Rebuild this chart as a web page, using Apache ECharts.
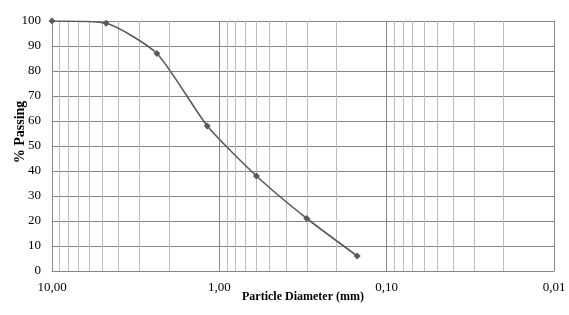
<!DOCTYPE html>
<html>
<head>
<meta charset="utf-8">
<script src="https://cdn.jsdelivr.net/npm/echarts@6/dist/echarts.min.js"></script>
<style>html,body{margin:0;padding:0;background:#fff}#c{width:569px;height:315px}</style>
</head>
<body>
<div id="c"></div>
<script>
var diameters = [10, 4.75, 2.36, 1.18, 0.6, 0.3, 0.15];
var passing = [100, 99.1, 87, 58, 38, 21, 6];
var minorGrid = [9,8,7,6,5,4,3,2, 0.9,0.8,0.7,0.6,0.5,0.4,0.3,0.2, 0.09,0.08,0.07,0.06,0.05,0.04,0.03,0.02];
var xTitle = 'Particle Diameter (mm)';
var yTitle = '% Passing';

var font = '"Liberation Serif","Times New Roman",serif';
var chart = echarts.init(document.getElementById('c'), null, {renderer:'canvas'});
chart.setOption({
  animation: false,
  grid: {left: 52, right: 15, top: 21, bottom: 44, containLabel: false, outerBoundsMode: 'none'},
  xAxis: {
    type: 'log', logBase: 10, min: 0.01, max: 10, inverse: true,
    name: xTitle, nameLocation: 'middle', nameGap: 20, nameMoveOverlap: false,
    nameTextStyle: {fontFamily: font, fontWeight: 'bold', fontSize: 12, color: '#000'},
    axisLine: {show: true, lineStyle: {color: '#868686', width: 1}},
    axisTick: {show: false},
    axisLabel: {fontFamily: font, fontSize: 13, color: '#000', margin: 10,
      formatter: function(v){ return v.toFixed(2).replace('.', ','); }},
    splitLine: {show: true, lineStyle: {color: '#868686', width: 1}},
    minorTick: {show: false}, minorSplitLine: {show: false}
  },
  yAxis: {
    type: 'value', min: 0, max: 100, interval: 10,
    name: yTitle, nameLocation: 'middle', nameGap: 25, nameRotate: 90, nameMoveOverlap: false,
    nameTextStyle: {fontFamily: font, fontWeight: 'bold', fontSize: 14, color: '#000', padding: [0, 0, 0, 28]},
    axisLine: {show: true, lineStyle: {color: '#868686', width: 1}},
    axisTick: {show: false},
    axisLabel: {fontFamily: font, fontSize: 13, color: '#000', margin: 11},
    splitLine: {show: true, lineStyle: {color: '#868686', width: 1}}
  },
  series: [{
    type: 'line',
    data: diameters.map(function(d, i){ return [d, passing[i]]; }),
    smooth: 0.2,
    symbol: 'diamond', symbolSize: 7,
    lineStyle: {color: '#5a5a5a', width: 1.6},
    itemStyle: {color: '#5a5a5a'},
    z: 5,
    markLine: {
      silent: true, symbol: ['none','none'], label: {show: false},
      lineStyle: {color: '#bdbdbd', width: 1, type: 'solid'},
      z: 1,
      data: minorGrid.map(function(v){ return {xAxis: v}; })
    }
  }]
});
</script>
</body>
</html>
